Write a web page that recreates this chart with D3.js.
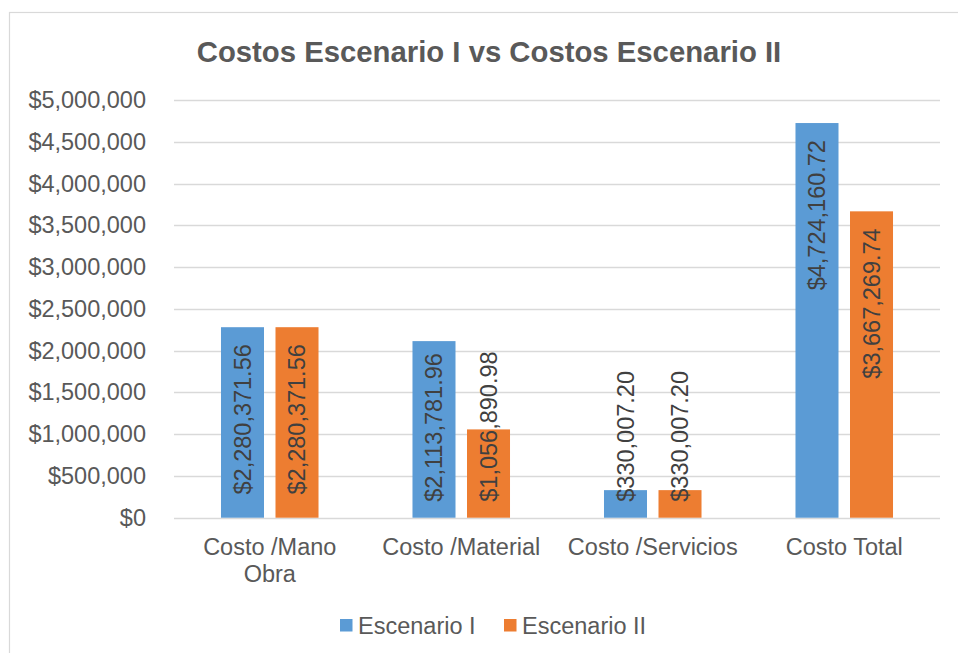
<!DOCTYPE html>
<html>
<head>
<meta charset="utf-8">
<script src="https://cdn.jsdelivr.net/npm/d3@7"></script>
<style>
  html, body { margin: 0; padding: 0; background: #fff; }
  svg { display: block; font-family: "Liberation Sans", Arial, sans-serif; }
</style>
</head>
<body>
<svg id="chart" width="958" height="653"></svg>
<script>
// Cost comparison data
const categories = [["Costo /Mano", "Obra"], ["Costo /Material"], ["Costo /Servicios"], ["Costo Total"]];
const categoryKeys = ["mano", "material", "servicios", "total"];
const seriesNames = ["Escenario I", "Escenario II"];
const escenarioI = [2280371.56, 2113781.96, 330007.20, 4724160.72];
const escenarioII = [2280371.56, 1056890.98, 330007.20, 3667269.74];
const yTicks = [0, 500000, 1000000, 1500000, 2000000, 2500000, 3000000, 3500000, 4000000, 4500000, 5000000];
const colors = ["#5B9BD5", "#ED7D31"];

const svg = d3.select("#chart");
const textColor = "#595959";

// Chart frame
svg.append("rect")
  .attr("x", 9.5).attr("y", 12.5)
  .attr("width", 960).attr("height", 660)
  .attr("fill", "#fff").attr("stroke", "#d9d9d9").attr("stroke-width", 1.2);

// Title
svg.append("text")
  .attr("x", 489).attr("y", 62)
  .attr("text-anchor", "middle")
  .attr("font-size", 29.3).attr("font-weight", "bold")
  .attr("fill", textColor)
  .text("Costos Escenario I vs Costos Escenario II");

const plot = { left: 174, right: 940, top: 100, bottom: 517.7 };

const y = d3.scaleLinear().domain([0, 5000000]).range([plot.bottom, plot.top]);
const x0 = d3.scaleBand().domain(categoryKeys).range([plot.left, plot.right]).paddingInner(0).paddingOuter(0);
const x1 = d3.scaleBand().domain(seriesNames).range([0, x0.bandwidth()]).paddingInner(0.211).paddingOuter(0.862);

// Gridlines
svg.append("g")
  .selectAll("line")
  .data(yTicks)
  .join("line")
  .attr("x1", plot.left).attr("x2", plot.right)
  .attr("y1", d => Math.round(y(d)) + 0.5).attr("y2", d => Math.round(y(d)) + 0.5)
  .attr("stroke", "#d9d9d9").attr("stroke-width", 1.3);

// Y axis labels
const fmtAxis = d3.format("$,.0f");
const yAxis = d3.axisLeft(y).tickValues(yTicks).tickFormat(fmtAxis).tickSize(0).tickPadding(0);
const yAxisG = svg.append("g").attr("transform", "translate(146,0)").call(yAxis);
yAxisG.select(".domain").remove();
yAxisG.selectAll("text")
  .attr("font-size", 23.5).attr("fill", textColor)
  .attr("font-family", "Liberation Sans, Arial, sans-serif");

// Bars
const rows = categoryKeys.map((k, i) => ({ key: k, values: [escenarioI[i], escenarioII[i]] }));
const groups = svg.append("g").selectAll("g")
  .data(rows)
  .join("g")
  .attr("transform", d => `translate(${x0(d.key)},0)`);

const fmtLabel = d3.format("$,.2f");

groups.selectAll("rect")
  .data(d => d.values.map((v, j) => ({ s: seriesNames[j], v, j })))
  .join("rect")
  .attr("x", d => x1(d.s))
  .attr("y", d => y(d.v))
  .attr("width", x1.bandwidth())
  .attr("height", d => plot.bottom - y(d.v))
  .attr("fill", d => colors[d.j]);

// Value labels, rotated, placed at the inside end of each bar
groups.selectAll("text.val")
  .data(d => d.values.map((v, j) => ({ s: seriesNames[j], v, j })))
  .join("text")
  .attr("class", "val")
  .attr("font-size", 23.5)
  .attr("fill", "#404040")
  .attr("dy", "0.35em")
  .text(d => fmtLabel(d.v))
  .each(function (d) {
    const len = this.getComputedTextLength();
    const cx = x1(d.s) + x1.bandwidth() / 2;
    const topEnd = y(d.v) + 17;
    let start = topEnd + len;
    if (start > plot.bottom - 16) start = plot.bottom - 16;
    d3.select(this)
      .attr("text-anchor", "start")
      .attr("transform", `translate(${cx},${start}) rotate(-90)`);
  });

// Category labels
const catG = svg.append("g");
categories.forEach((lines, i) => {
  const cx = x0(categoryKeys[i]) + x0.bandwidth() / 2;
  const t = catG.append("text")
    .attr("text-anchor", "middle")
    .attr("font-size", 23.5).attr("fill", textColor);
  lines.forEach((ln, k) => {
    t.append("tspan").attr("x", cx).attr("y", 555 + k * 27).text(ln);
  });
});

// Legend
const legend = svg.append("g");
const legendItems = [
  { name: seriesNames[0], color: colors[0], x: 340 },
  { name: seriesNames[1], color: colors[1], x: 504 }
];
legendItems.forEach(it => {
  legend.append("rect")
    .attr("x", it.x).attr("y", 619)
    .attr("width", 12.5).attr("height", 12.5)
    .attr("fill", it.color);
  legend.append("text")
    .attr("x", it.x + 18).attr("y", 633.5)
    .attr("font-size", 23.5).attr("fill", textColor)
    .text(it.name);
});
</script>
</body>
</html>
